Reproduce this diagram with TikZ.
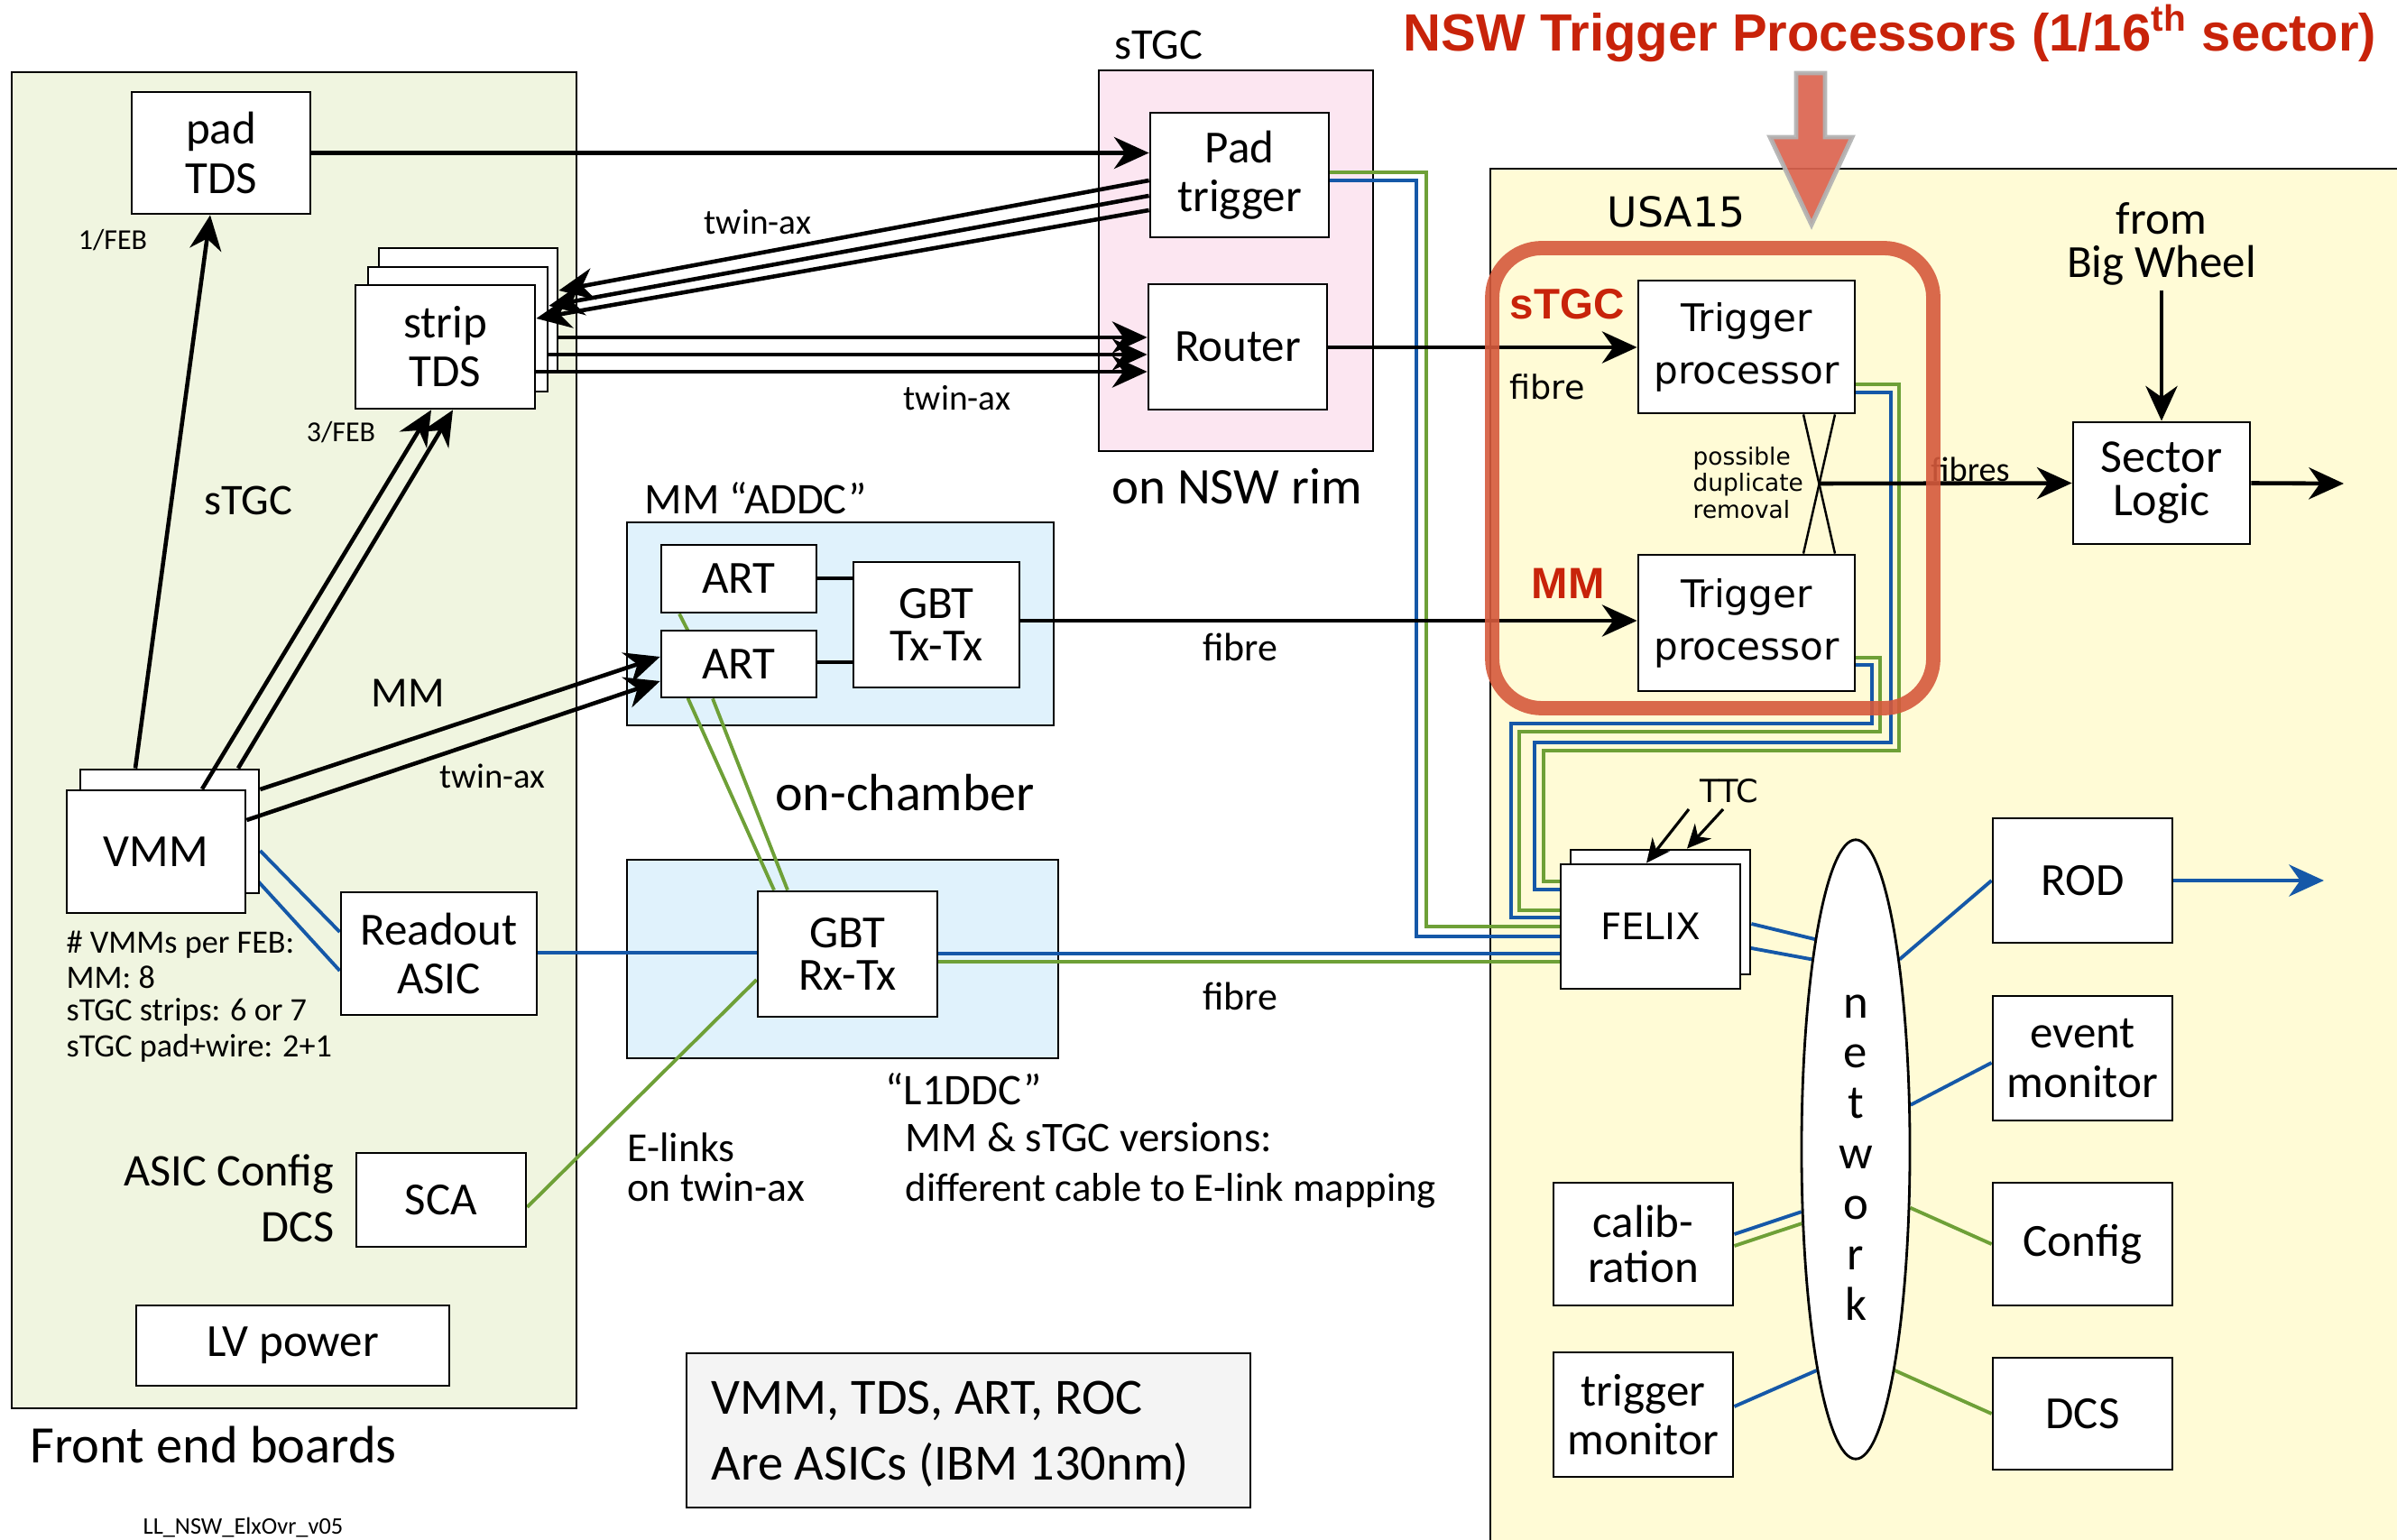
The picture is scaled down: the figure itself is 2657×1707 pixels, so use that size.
\documentclass[tikz,border=0pt]{standalone}
\usepackage{fontspec}
\setmainfont{Carlito}
\newfontfamily\dvf{DejaVu Sans}
\newfontfamily\libf{Liberation Sans}
\usetikzlibrary{arrows.meta,fit,shapes.geometric,calc}
\definecolor{feg}{HTML}{F0F5E0}
\definecolor{pinkc}{HTML}{FCE6F1}
\definecolor{lbluec}{HTML}{E0F2FC}
\definecolor{yelc}{HTML}{FFFBD6}
\definecolor{grayc}{HTML}{F4F4F4}
\definecolor{lnblue}{HTML}{1558A8}
\definecolor{lngreen}{HTML}{6EA037}
\definecolor{redbox}{HTML}{D55A3C}
\definecolor{titlered}{HTML}{C8230A}
\definecolor{bigarrow}{HTML}{DC6450}
\pgfdeclarelayer{regions}
\pgfdeclarelayer{lines}
\pgfdeclarelayer{top}
\pgfsetlayers{regions,lines,main,top}
\newcommand\myfs[2]{\fontsize{#1}{#2}\selectfont}
\newcommand\fntBox{\fontsize{14.5}{15.4}\selectfont}
\newcommand\fntGBT{\fontsize{14.5}{13.4}\selectfont}
\newcommand\fntDV{\dvf\fontsize{12}{16.5}\selectfont}
\begin{document}
\begin{tikzpicture}[x=0.01cm, y=-0.01cm,
  box/.style={draw, line width=0.8pt, fill=white, inner sep=0pt, align=center, font=\fntBox},
  corners/.style args={#1/#2/#3/#4}{at={({(#1+#3)/2},{(#2+#4)/2})},
     minimum width={(#3-#1)*0.01cm}, minimum height={(#4-#2)*0.01cm}},
  region/.style={draw, line width=0.8pt, inner sep=0pt},
  lbl/.style={inner sep=0pt, align=center},
  arr/.style={line width=1.3pt, -{Stealth[length=11pt,width=10pt,inset=3.5pt]}},
  thinarr/.style={line width=0.9pt, -{Stealth[length=7.5pt,width=7pt,inset=2.4pt]}},
  bl/.style={draw=lnblue, line width=1.1pt},
  gr/.style={draw=lngreen, line width=1.1pt},
]
\useasboundingbox (0,0) rectangle (2657,1707);

% ---------------- regions ----------------
\begin{pgfonlayer}{regions}
\fill[white] (0,0) rectangle (2657,1707);
\node[region, fill=feg, fit={(13,80) (639,1561)}] (febox) {};
\node[region, fill=pinkc, fit={(1218,78) (1522,500)}] (stgcbox) {};
\node[region, fill=lbluec, fit={(695,579) (1168,804)}] (addcbox) {};
\node[region, fill=lbluec, fit={(695,953) (1173,1173)}] (l1ddcbox) {};
\node[region, fill=yelc, fit={(1652,187) (2700,1760)}] (usabox) {};
\node[region, fill=grayc, fit={(761,1500) (1386,1671)}] (notebox) {};
\end{pgfonlayer}

% ---------------- boxes ----------------
\node[box, corners=146/102/344/237] (padtds) {pad\\TDS};
\node[box, corners=420/275/618/413] (strip3) {};
\node[box, corners=408/296/607/434] (strip2) {};
\node[box, corners=394/316/593/453] (striptds) {strip\\TDS};
\node[box, corners=89/853/287/990] (vmm2) {};
\node[box, corners=74/876/272/1012] (vmm) {VMM};
\node[box, corners=378/989/595/1125] (readout) {Readout\\ASIC};
\node[box, corners=395/1278/583/1382] (sca) {SCA};
\node[box, corners=151/1447/498/1536] (lvpower) {LV power};
\node[box, corners=1275/125/1473/263] (padtrig) {Pad\\trigger};
\node[box, corners=1273/315/1471/454] (router) {Router};
\node[box, corners=733/604/905/679] (art1) {ART};
\node[box, corners=733/699/905/773] (art2) {ART};
\node[box, font=\fntGBT, corners=946/623/1130/762] (gbttx) {GBT\\Tx-Tx};
\node[box, font=\fntGBT, corners=840/988/1039/1127] (gbtrx) {GBT\\Rx-Tx};
\node[box, font=\fntDV, corners=1816/311/2056/458] (tp1) {Trigger\\processor};
\node[box, font=\fntDV, corners=1816/615/2056/766] (tp2) {Trigger\\processor};
\node[box, font=\myfs{14.8}{13.6}, corners=2298/468/2494/603] (sector) {Sector\\Logic};
\node[box, corners=1741/942/1940/1080] (felix2) {};
\node[box, font=\dvf\myfs{11.5}{13}, corners=1730/958/1929/1096] (felix) {FELIX};
\node[box, corners=2209/907/2408/1045] (rod) {ROD};
\node[box, corners=2209/1104/2408/1242] (evmon) {event\\monitor};
\node[box, corners=2209/1311/2408/1447] (config) {Config};
\node[box, corners=2209/1505/2408/1629] (dcs) {DCS};
\node[box, font=\myfs{14.5}{14.2}, corners=1722/1311/1921/1447] (calib) {calib-\\ration};
\node[box, corners=1722/1499/1921/1637] (trigmon) {trigger\\monitor};
\node[draw, ellipse, line width=0.8pt, fill=white, inner sep=0pt, minimum width=1.2cm, minimum height=6.86cm] (network) at (2057,1274) {};
\node[lbl, font=\myfs{15}{15.9}] (networktxt) at (2057,1283) {n\\e\\t\\w\\o\\r\\k};

% ---------------- labels ----------------
\node[lbl, font=\myfs{13.8}{15}] (lstgctop) at (1284,50) {sTGC};
\node[lbl, font=\myfs{16.2}{17}] (lrim) at (1371,539) {on NSW rim};
\node[lbl, font=\myfs{11.2}{12}] (ltw1) at (840,246) {twin-ax};
\node[lbl, font=\myfs{11.2}{12}] (ltw2) at (1061,441) {twin-ax};
\node[lbl, font=\myfs{9.1}{10}] (lfeb1) at (125,266) {1/FEB};
\node[lbl, font=\myfs{9.1}{10}] (lfeb3) at (378,479) {3/FEB};
\node[lbl, font=\myfs{13.8}{15}] (lstgcl) at (275,555) {sTGC};
\node[lbl, font=\myfs{13.5}{15}] (lmm) at (452,768) {MM};
\node[lbl, font=\myfs{11}{12}] (ltw3) at (546,860) {twin-ax};
\node[lbl, font=\myfs{13.8}{15}] (laddc) at (838,552) {MM “ADDC”};
\node[lbl, font=\myfs{16.5}{17}] (lonch) at (1003,879) {on-chamber};
\node[lbl, font=\myfs{13.8}{15}] (ll1ddc) at (1068,1207) {“L1DDC”};
\node[lbl, anchor=west, font=\myfs{13.3}{15}] (lver) at (1003,1261) {MM \& sTGC versions:};
\node[lbl, anchor=west, font=\myfs{12.7}{14}] (lmap) at (1003,1320) {different cable to E-link mapping};
\node[lbl, anchor=west, font=\myfs{13}{14}] (lelinks) at (695,1272) {E-links};
\node[lbl, anchor=west, font=\myfs{13}{14}] (lontw) at (695,1316) {on twin-ax};
\node[lbl, font=\myfs{12.5}{14}] (lfib1) at (1375,717) {fibre};
\node[lbl, font=\myfs{12.5}{14}] (lfib2) at (1375,1104) {fibre};
\node[lbl, anchor=west, font=\myfs{10.3}{11}] (linfo1) at (73,1047) {\# VMMs per FEB:};
\node[lbl, anchor=west, font=\myfs{10.3}{11}] (linfo2) at (73,1083) {MM: 8};
\node[lbl, anchor=west, font=\myfs{10.3}{11}] (linfo3) at (73,1122) {sTGC strips: 6 or 7};
\node[lbl, anchor=west, font=\myfs{10.3}{11}] (linfo4) at (73,1162) {sTGC pad+wire: 2+1};
\node[lbl, anchor=east, font=\myfs{14.3}{15}] (lasic) at (371,1301) {ASIC Config};
\node[lbl, anchor=east, font=\myfs{14.3}{15}] (ldcs) at (371,1360) {DCS};
\node[lbl, anchor=west, font=\myfs{16.6}{18}] (lfeb) at (33,1601) {Front end boards};
\node[lbl, anchor=west, font=\myfs{7.5}{8}] (lver05) at (158,1693) {LL\_NSW\_ElxOvr\_v05};
\node[lbl, anchor=west, font=\myfs{16}{17}] (lnote1) at (788,1553) {VMM, TDS, ART, ROC};
\node[lbl, anchor=west, font=\myfs{16}{17}] (lnote2) at (788,1624) {Are ASICs (IBM 130nm)};
\node[lbl, anchor=base, text=titlered, font=\libf\bfseries\myfs{16.5}{18}] (ltitle) at (2095,57) {NSW Trigger Processors (1/16\textsuperscript{th} sector)};
\node[lbl, font=\dvf\myfs{13}{14}] (lusa) at (1858,235) {USA15};
\node[lbl, text=titlered, font=\libf\bfseries\myfs{13.5}{14}] (lrstgc) at (1737,337) {sTGC};
\node[lbl, text=titlered, font=\libf\bfseries\myfs{13.8}{14}] (lrmm) at (1738,647) {MM};
\node[lbl, font=\dvf\myfs{10.4}{12}] (lfibr) at (1715,429) {fibre};
\node[lbl, anchor=west, align=left, font=\dvf\myfs{7.5}{8.4}] (lposs) at (1876,535) {possible\\duplicate\\removal};
\node[lbl, font=\myfs{10.9}{12}] (lfibres) at (2184,520) {fibres};
\node[lbl, font=\myfs{14.5}{15}] (lbw1) at (2396,242) {from};
\node[lbl, font=\myfs{14.5}{15}] (lbw2) at (2396,294) {Big Wheel};
\node[lbl, font=\dvf\myfs{10}{11}] (lttc) at (1917,877) {TTC};

% ---------------- coloured links ----------------
\begin{pgfonlayer}{lines}
\draw[gr] (padtrig.east |- 0,191) -- (1581,191) -- (1581,1027) -- (felix.west |- 0,1027);
\draw[bl] (padtrig.east |- 0,200) -- (1570,200) -- (1570,1038) -- (felix.west |- 0,1038);
\draw[gr] (tp1.east |- 0,426) -- (2105,426) -- (2105,832) -- (1711,832) -- (1711,977) -- (felix.west |- 0,977);
\draw[bl] (tp1.east |- 0,435) -- (2096,435) -- (2096,823) -- (1701,823) -- (1701,986) -- (felix.west |- 0,986);
\draw[gr] (tp2.east |- 0,729) -- (2084,729) -- (2084,811) -- (1684,811) -- (1684,1009) -- (felix.west |- 0,1009);
\draw[bl] (tp2.east |- 0,737) -- (2075,737) -- (2075,802) -- (1675,802) -- (1675,1017) -- (felix.west |- 0,1017);
\draw[bl] (gbtrx.east |- 0,1057) -- (felix.west |- 0,1057);
\draw[gr] (gbtrx.east |- 0,1066) -- (felix.west |- 0,1066);
\draw[bl, line width=1.3pt] (readout.east |- 0,1056) -- (gbtrx.west |- 0,1056);
\draw[bl] (vmm2.east |- 0,943) -- (readout.west |- 0,1033);
\draw[bl] (vmm.east |- 0,963) -- (readout.west |- 0,1076);
\draw[gr] (sca.east |- 0,1338) -- (gbtrx.west |- 0,1086);
\draw[gr] (art1.south -| 753,0) -- (763,700) -- (763,775) -- (gbtrx.north -| 858,0);
\draw[gr] (art2.south -| 790,0) -- (gbtrx.north -| 873,0);
\draw[bl] (felix2.east |- 0,1024) -- (network.101);
\draw[bl] (felix.east |- 0,1049) -- (network.103);
\draw[bl] (network.77) -- (rod.west);
\draw[bl] (network.39) -- (evmon.west |- 0,1178);
\draw[gr] (network.-47) -- (config.west);
\draw[gr] (network.-80) -- (dcs.west);
\draw[bl] (calib.east |- 0,1368) -- (network.-131);
\draw[gr] (calib.east |- 0,1381) -- (network.-126);
\draw[bl] (trigmon.east |- 0,1559) -- (network.-100);
\end{pgfonlayer}

% ---------------- black links ----------------
\draw[arr] (padtds.east) -- (padtrig.west |- padtds.east);
\draw[arr] (padtrig.west |- 0,200) -- (strip3.east |- 0,322);
\draw[arr] (padtrig.west |- 0,217) -- (strip2.east |- 0,339);
\draw[arr] (padtrig.west |- 0,233) -- (striptds.east |- 0,353);
\draw[arr] (strip3.east |- 0,374) -- (router.west |- 0,374);
\draw[arr] (strip2.east |- 0,393) -- (router.west |- 0,393);
\draw[arr] (striptds.east |- 0,412) -- (router.west |- 0,412);
\draw[arr] (router.east |- 0,385) -- (tp1.west |- 0,385);
\draw[arr] (vmm2.north -| 150,0) -- (padtds.south -| 233,0);
\draw[arr] (vmm.north -| 224,0) -- (striptds.south -| 478,0);
\draw[arr] (vmm2.north -| 264,0) -- (striptds.south -| 502,0);
\draw[arr] (vmm2.east |- 0,875) -- (art2.west |- 0,728);
\draw[arr] (vmm.east |- 0,909) -- (art2.west |- 0,755);
\draw[line width=1.3pt] (art1.east |- 0,641) -- (gbttx.west |- 0,641);
\draw[line width=1.3pt] (art2.east |- 0,734) -- (gbttx.west |- 0,734);
\draw[arr] (gbttx.east |- 0,688) -- (tp2.west |- 0,688);
\draw[line width=0.7pt] (tp1.south -| 1999,0) -- (tp2.north -| 2034,0);
\draw[line width=0.7pt] (tp1.south -| 2034,0) -- (tp2.north -| 1999,0);
\coordinate (xc) at (2016.5,536);
\draw[arr] (xc) -- (sector.west);
\coordinate (bwfrom) at (2396,322);
\draw[arr] (bwfrom) -- (sector.north);
\coordinate (slout) at (2598,536);
\draw[arr] (sector.east) -- (slout);
\coordinate (rodout) at (2576,976);
\draw[line width=1.3pt, lnblue, -{Stealth[length=11pt,width=10pt,inset=3.5pt]}] (rod.east) -- (rodout);
\coordinate (ttc1) at (1872,897);
\coordinate (ttc2) at (1910,897);
\draw[thinarr] (ttc1) -- (felix.north -| 1825,0);
\draw[thinarr] (ttc2) -- (felix2.north -| 1870,0);

% ---------------- overlays ----------------
\begin{pgfonlayer}{top}
\node[draw=redbox, line width=4.5pt, rounded corners=0.55cm, inner sep=0pt, draw opacity=0.9, fit={(1654,275) (2143,785)}] (tpgroup) {};
\path[fill=bigarrow, draw=gray!60, line width=1.4pt, opacity=0.92]
  (1991,81) -- (2023,81) -- (2023,152) -- (2053,152) -- (2008,249) -- (1962,152) -- (1991,152) -- cycle;
\end{pgfonlayer}
\end{tikzpicture}
\end{document}
